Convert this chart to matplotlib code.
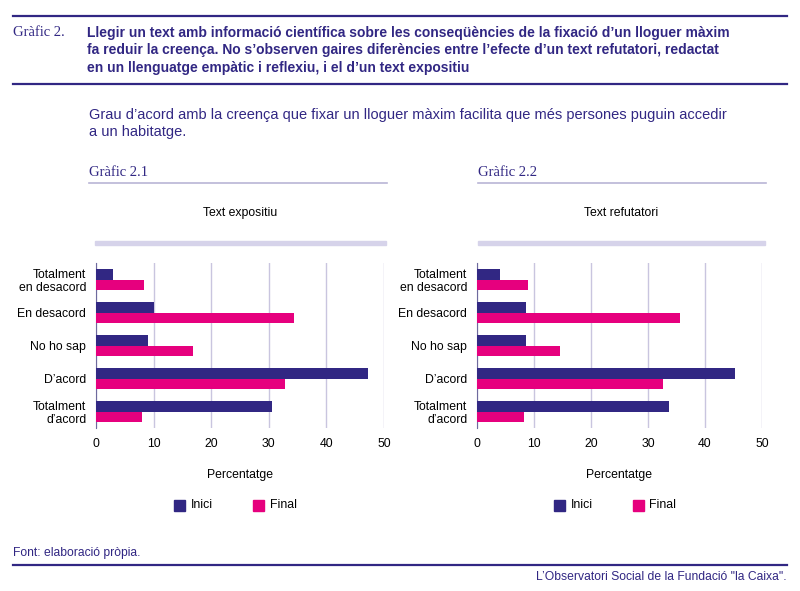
import matplotlib
matplotlib.use("Agg")
import matplotlib.pyplot as plt
import numpy as np
from matplotlib.patches import Rectangle
from matplotlib.lines import Line2D

# data
categories = ["Totalment\nen desacord", "En desacord", "No ho sap", "D\u2019acord", "Totalment\nd\u2019acord"]
expositiu_inici = [3.0, 10.0, 9.1, 47.3, 30.5]
expositiu_final = [8.3, 34.3, 16.8, 32.8, 8.0]
refutatori_inici = [4.0, 8.6, 8.6, 45.3, 33.7]
refutatori_final = [9.0, 35.7, 14.6, 32.7, 8.2]
series_names = ["Inici", "Final"]
xticks = [0, 10, 20, 30, 40, 50]

NAVY = "#312783"
MAGENTA = "#e6007e"
LAV = "#d6d3ea"
GRID = "#c9c5df"

plt.rcParams["font.family"] = ["Liberation Sans", "DejaVu Sans"]
SERIF = ["Liberation Serif", "DejaVu Serif"]

W, H = 800, 591
fig = plt.figure(figsize=(W / 100, H / 100), dpi=100)


def px(x, y):
    return x / W, 1 - y / H


def hline(x0, x1, y, color, lw):
    fig.add_artist(Line2D([x0 / W, x1 / W], [1 - y / H, 1 - y / H], color=color, lw=lw,
                          transform=fig.transFigure))


def text(x, y, s, **kw):
    fig.text(x / W, 1 - y / H, s, **kw)


# header
hline(13, 787, 16, NAVY, 1.6)
text(13, 32, "Gr\u00e0fic 2.", family=SERIF, fontsize=10.5, color=NAVY, va="center")
title = ("Llegir un text amb informaci\u00f3 cient\u00edfica sobre les conseq\u00fc\u00e8ncies de la fixaci\u00f3 d\u2019un lloguer m\u00e0xim\n"
         "fa reduir la creen\u00e7a. No s\u2019observen gaires difer\u00e8ncies entre l\u2019efecte d\u2019un text refutatori, redactat\n"
         "en un llenguatge emp\u00e0tic i reflexiu, i el d\u2019un text expositiu")
text(87, 26, title, fontsize=10, fontweight="bold", color=NAVY, va="top", linespacing=1.3)
hline(13, 787, 84, NAVY, 1.6)

text(89, 108, "Grau d\u2019acord amb la creen\u00e7a que fixar un lloguer m\u00e0xim facilita que m\u00e9s persones puguin accedir\n"
     "a un habitatge.", fontsize=10.5, color=NAVY, va="top", linespacing=1.25)

# footer
text(13, 553, "Font: elaboraci\u00f3 pr\u00f2pia.", fontsize=8.7, color=NAVY, va="center")
hline(13, 787, 565, NAVY, 1.6)
text(787, 577, "L\u2019Observatori Social de la Fundaci\u00f3 \"la Caixa\".", fontsize=8.7, color=NAVY,
     va="center", ha="right")

panels = [
    ("Gr\u00e0fic 2.1", "Text expositiu", expositiu_inici, expositiu_final, 96, 384, 89, 387, 95, 386),
    ("Gr\u00e0fic 2.2", "Text refutatori", refutatori_inici, refutatori_final, 477, 762, 478, 766, 478, 765),
]

y = np.arange(len(categories))
h = 0.33

for name, sub, inici, final, ax0, ax1, l0, l1, b0, b1 in panels:
    text(l0, 172, name, family=SERIF, fontsize=10.5, color=NAVY, va="center")
    hline(l0, l1, 183, "#b9b5d6", 1.2)
    text((b0 + b1) / 2, 213, sub, fontsize=8.8, color="black", ha="center", va="center")
    fig.add_artist(Rectangle((b0 / W, 1 - 245 / H), (b1 - b0) / W, 4 / H, color=LAV,
                             transform=fig.transFigure))

    left, bottom = px(ax0, 428)
    ax = fig.add_axes([left, bottom, (ax1 - ax0) / W, (428 - 263) / H])
    ax.barh(y - h / 2, inici, height=h, color=NAVY, zorder=3)
    ax.barh(y + h / 2, final, height=h, color=MAGENTA, zorder=3)
    ax.set_ylim(len(categories) - 0.5, -0.5)
    ax.set_xlim(0, 50)
    ax.set_xticks(xticks)
    ax.set_yticks(y)
    ax.set_yticklabels(categories, fontsize=8.8, linespacing=1.1)
    ax.tick_params(axis="y", length=0, pad=7)
    ax.tick_params(axis="x", length=0, pad=7, labelsize=8.8)
    for s in ["top", "right", "bottom"]:
        ax.spines[s].set_visible(False)
    ax.spines["left"].set_color("#6e6a9e")
    ax.spines["left"].set_linewidth(0.8)
    ax.grid(axis="x", color=GRID, lw=1, zorder=0)
    ax.set_axisbelow(True)
    ax.set_xlabel("Percentatge", fontsize=8.8, labelpad=14)

    # legend
    cx = (ax0 + ax1) / 2
    for i, (lab, col) in enumerate(zip(series_names, [NAVY, MAGENTA])):
        sx = cx - 66 + i * 79
        fig.add_artist(Rectangle((sx / W, 1 - 511 / H), 11 / W, 11 / H, color=col,
                                 transform=fig.transFigure))
        text(sx + 17, 505, lab, fontsize=8.8, color="black", va="center")

fig.savefig("out.png", dpi=100)
